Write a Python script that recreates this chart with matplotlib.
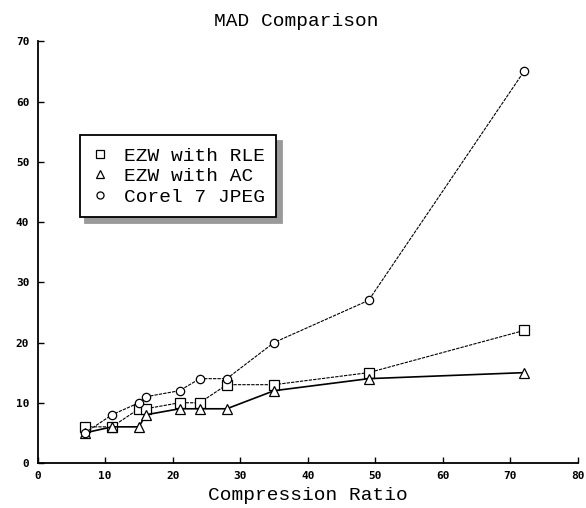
import matplotlib
matplotlib.use("Agg")
import matplotlib.pyplot as plt

ratio = [7, 11, 15, 16, 21, 24, 28, 35, 49, 72]
mad_rle = [6, 6, 9, 9, 10, 10, 13, 13, 15, 22]
mad_ac = [5, 6, 6, 8, 9, 9, 9, 12, 14, 15]
mad_jpeg = [5, 8, 10, 11, 12, 14, 14, 20, 27, 65]

x_ticks = [0, 10, 20, 30, 40, 50, 60, 70, 80]
y_ticks = [0, 10, 20, 30, 40, 50, 60, 70]

mono = "Liberation Mono"

fig = plt.figure(figsize=(5.86, 5.08), dpi=100)
ax = fig.add_axes([0.0643, 0.0886, 0.922, 0.830])

ax.plot(ratio, mad_rle, color="black", lw=0.8, linestyle=(0, (3, 1)),
        marker="s", ms=7.5, mfc="white", mec="black", mew=0.9,
        label="EZW with RLE")
ax.plot(ratio, mad_ac, color="black", lw=1.2, linestyle="-",
        marker="^", ms=7.5, mfc="white", mec="black", mew=0.9,
        label="EZW with AC")
ax.plot(ratio, mad_jpeg, color="black", lw=0.8, linestyle=(0, (3, 1)),
        marker="o", ms=6, mfc="white", mec="black", mew=0.9,
        label="Corel 7 JPEG")

ax.set_xlim(0, 80)
ax.set_ylim(0, 70)
ax.set_xticks(x_ticks)
ax.set_yticks(y_ticks)
ax.tick_params(direction="in", length=4, width=1, labelsize=8, pad=6)
for lab in ax.get_xticklabels() + ax.get_yticklabels():
    lab.set_fontfamily("DejaVu Sans Mono")
    lab.set_fontweight("bold")

ax.spines["top"].set_visible(False)
ax.spines["right"].set_visible(False)
ax.spines["left"].set_linewidth(1.3)
ax.spines["bottom"].set_linewidth(1.3)

ax.set_title("MAD Comparison", fontfamily=mono, fontsize=14, pad=11, x=0.478)
ax.set_xlabel("Compression Ratio", fontfamily=mono, fontsize=14, labelpad=4)

leg = ax.legend(loc="upper left", bbox_to_anchor=(0.078, 0.777), borderaxespad=0,
                prop={"family": mono, "size": 14}, frameon=True, fancybox=False,
                edgecolor="black", handlelength=0.9, handletextpad=0.75,
                markerscale=0.85, labelspacing=0.15, borderpad=0.6,
                shadow={"ox": 4, "oy": -4, "color": "#9a9a9a", "alpha": 1.0})
leg.get_frame().set_linewidth(1.3)
for line in leg.get_lines():
    line.set_linestyle("none")

fig.savefig("out.png", dpi=100)
